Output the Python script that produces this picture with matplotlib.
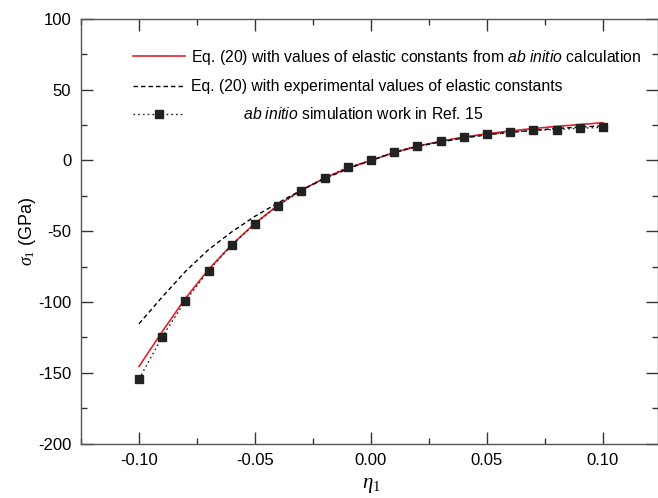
import matplotlib
matplotlib.use("Agg")
import matplotlib.pyplot as plt
from matplotlib.ticker import MultipleLocator, FormatStrFormatter

plt.rcParams['font.family'] = ['Liberation Sans', 'DejaVu Sans']
plt.rcParams['axes.unicode_minus'] = False
plt.rcParams['mathtext.fontset'] = 'custom'
plt.rcParams['mathtext.rm'] = 'Liberation Serif'
plt.rcParams['mathtext.it'] = 'Liberation Serif:italic'
plt.rcParams['mathtext.sf'] = 'Liberation Sans:italic'

# strain values
eta = [-0.10, -0.09, -0.08, -0.07, -0.06, -0.05, -0.04, -0.03, -0.02, -0.01,
       0.00, 0.01, 0.02, 0.03, 0.04, 0.05, 0.06, 0.07, 0.08, 0.09, 0.10]

# Eq. (20) with ab initio elastic constants (GPa)
sigma_abinitio_eq = [-145.6, -121.0, -97.5, -77.0, -59.5, -44.5, -31.5, -21.0, -12.5, -5.5,
                     0.0, 5.5, 10.0, 13.5, 16.5, 18.8, 20.8, 22.5, 24.0, 25.3, 26.6]

# Eq. (20) with experimental elastic constants (GPa)
sigma_exp_eq = [-115.4, -96.5, -78.5, -63.0, -50.5, -39.5, -30.0, -21.0, -13.0, -6.0,
                0.0, 5.5, 9.8, 13.0, 15.8, 18.0, 19.8, 21.2, 22.5, 23.5, 24.4]

# ab initio simulation, Ref. 15 (GPa)
sigma_ref15 = [-154.5, -124.7, -99.2, -77.8, -59.9, -44.8, -31.9, -21.3, -12.3, -5.0,
               0.0, 5.9, 10.3, 13.4, 16.2, 18.3, 20.0, 21.1, 21.8, 22.7, 23.3]

labels = [
    'Eq. (20) with values of elastic constants from $\\mathsf{ab\\ initio}$ calculation',
    'Eq. (20) with experimental values of elastic constants',
    '            $\\mathsf{ab\\ initio}$ simulation work in Ref. 15',
]

fig = plt.figure(figsize=(6.58, 4.98), dpi=100)
ax = fig.add_axes([81 / 658, 54.5 / 498, (657.5 - 81) / 658, (443.7 - 19) / 498])

ax.plot(eta, sigma_abinitio_eq, color='#e8202a', lw=1.2, label=labels[0])
ax.plot(eta, sigma_exp_eq, color='black', lw=1.0, ls=(0, (3.2, 2.2)), label=labels[1])
ax.plot(eta, sigma_ref15, color='#222222', lw=1.0, ls=(0, (1.2, 2.2)),
        marker='s', ms=5.2, mfc='#222222', mec='#222222', label=labels[2])

ax.set_xlim(-0.125, 0.1235)
ax.set_ylim(-200, 100)
ax.xaxis.set_major_locator(MultipleLocator(0.05))
ax.xaxis.set_minor_locator(MultipleLocator(0.025))
ax.yaxis.set_major_locator(MultipleLocator(50))
ax.yaxis.set_minor_locator(MultipleLocator(25))
ax.xaxis.set_major_formatter(FormatStrFormatter('%.2f'))

ax.tick_params(which='both', direction='in', top=True, right=True,
               labelsize=12, colors='#333333', labelcolor='black', width=1.0)
ax.tick_params(which='major', length=8.5, pad=7)
ax.tick_params(which='minor', length=4)
for s in ax.spines.values():
    s.set_color('#555555')
    s.set_linewidth(1.0)

ax.set_xlabel('$\\eta_{1}$', fontsize=15, va='center')
ax.xaxis.set_label_coords((371 - 81) / 576.5, -(486 - 443.7) / 424.7)
ax.set_ylabel('$\\sigma_{1}$ (GPa)', fontsize=13, va='center')
ax.yaxis.set_label_coords((28 - 81) / 576.5, 0.5)

leg = ax.legend(loc='upper left', bbox_to_anchor=((133 - 81) / 576.5, (443.7 - 48) / 424.7),
                frameon=False, fontsize=11.3, handlelength=3.3, handletextpad=0.4,
                labelspacing=0.78, borderaxespad=0, borderpad=0)

fig.savefig('out.png', dpi=100)
